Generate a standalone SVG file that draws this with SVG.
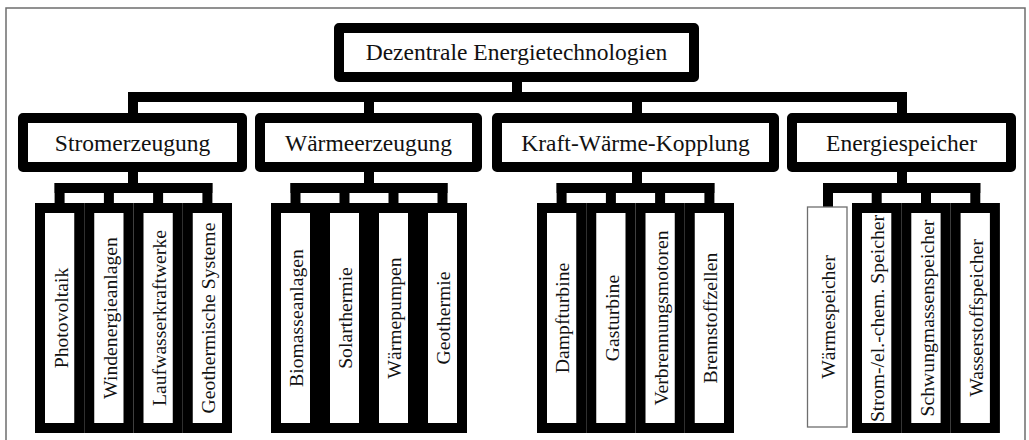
<svg xmlns="http://www.w3.org/2000/svg" width="1029" height="440" viewBox="0 0 1029 440">
<style>
.box{fill:#fff;stroke:#000;stroke-width:10;stroke-linejoin:round}
.leaf{fill:#fff;stroke:#000;stroke-width:10;stroke-linejoin:miter}
.thin{fill:#fff;stroke:#6e6e6e;stroke-width:1.3}
.con{stroke:#000;stroke-width:10;fill:none;stroke-linecap:butt}
.h{font-family:"Liberation Serif","Times New Roman",serif;font-size:23.5px;fill:#111;text-anchor:middle}
.v{font-family:"Liberation Serif","Times New Roman",serif;font-size:19.7px;fill:#111;text-anchor:middle}
</style>
<rect x="0" y="0" width="1029" height="440" fill="#fff"/>
<path d="M6,440 V8 H1025 V440" fill="none" stroke="#6e6e6e" stroke-width="1.5"/>

<g id="connectors" class="con">
  <line x1="517" y1="82" x2="517" y2="92"/>
  <line x1="128" y1="97" x2="907" y2="97"/>
  <line x1="133" y1="92" x2="133" y2="113"/>
  <line x1="369" y1="92" x2="369" y2="113"/>
  <line x1="637" y1="92" x2="637" y2="113"/>
  <line x1="902" y1="92" x2="902" y2="113"/>
  <!-- Stromerzeugung -->
  <line x1="133" y1="172" x2="133" y2="193"/>
  <line x1="54.6" y1="188" x2="212.4" y2="188"/>
  <line x1="59.6" y1="183" x2="59.6" y2="203"/>
  <line x1="108.9" y1="183" x2="108.9" y2="203"/>
  <line x1="158.1" y1="183" x2="158.1" y2="203"/>
  <line x1="207.4" y1="183" x2="207.4" y2="203"/>
  <!-- Waermeerzeugung -->
  <line x1="369" y1="172" x2="369" y2="193"/>
  <line x1="290.5" y1="188" x2="447.5" y2="188"/>
  <line x1="295.5" y1="183" x2="295.5" y2="203"/>
  <line x1="344.5" y1="183" x2="344.5" y2="203"/>
  <line x1="393.5" y1="183" x2="393.5" y2="203"/>
  <line x1="442.5" y1="183" x2="442.5" y2="203"/>
  <!-- KWK -->
  <line x1="637" y1="172" x2="637" y2="193"/>
  <line x1="556.6" y1="188" x2="714.4" y2="188"/>
  <line x1="561.6" y1="183" x2="561.6" y2="203"/>
  <line x1="610.9" y1="183" x2="610.9" y2="203"/>
  <line x1="660.1" y1="183" x2="660.1" y2="203"/>
  <line x1="709.4" y1="183" x2="709.4" y2="203"/>
  <!-- Energiespeicher -->
  <line x1="902" y1="172" x2="902" y2="193"/>
  <line x1="823" y1="188" x2="980.3" y2="188"/>
  <line x1="828" y1="183" x2="828" y2="207"/>
  <line x1="876.7" y1="183" x2="876.7" y2="203"/>
  <line x1="926" y1="183" x2="926" y2="203"/>
  <line x1="975.3" y1="183" x2="975.3" y2="203"/>
</g>

<g id="root">
  <rect class="box" x="339" y="28" width="355" height="49"/>
  <text class="h" x="516.5" y="60">Dezentrale Energietechnologien</text>
</g>

<g id="stromerzeugung">
  <rect class="box" x="23" y="118" width="219" height="49"/>
  <text class="h" x="132.5" y="150.5">Stromerzeugung</text>
</g>
<g id="waermeerzeugung">
  <rect class="box" x="260" y="118" width="217" height="49"/>
  <text class="h" x="368.5" y="150.5">Wärmeerzeugung</text>
</g>
<g id="kwk">
  <rect class="box" x="497" y="118" width="277" height="49"/>
  <text class="h" x="635.5" y="150.5">Kraft-Wärme-Kopplung</text>
</g>
<g id="energiespeicher">
  <rect class="box" x="792" y="118" width="219" height="49"/>
  <text class="h" x="901.5" y="150.5">Energiespeicher</text>
</g>

<!-- Stromerzeugung leaves -->
<g id="photovoltaik">
  <rect class="leaf" x="40" y="208" width="39.25" height="220"/>
  <text class="v" transform="translate(67.5,318) rotate(-90)">Photovoltaik</text>
</g>
<g id="windenergieanlagen">
  <rect class="leaf" x="89.25" y="208" width="39.25" height="220"/>
  <text class="v" transform="translate(116.5,318) rotate(-90)">Windenergieanlagen</text>
</g>
<g id="laufwasserkraftwerke">
  <rect class="leaf" x="138.5" y="208" width="39.25" height="220"/>
  <text class="v" transform="translate(165.7,318) rotate(-90)">Laufwasserkraftwerke</text>
</g>
<g id="geothermische-systeme">
  <rect class="leaf" x="187.75" y="208" width="39.25" height="220"/>
  <text class="v" transform="translate(215,318) rotate(-90)">Geothermische Systeme</text>
</g>

<!-- Waermeerzeugung leaves -->
<g id="biomasseanlagen">
  <rect class="leaf" x="276" y="208" width="39" height="220"/>
  <text class="v" transform="translate(303,318) rotate(-90)">Biomasseanlagen</text>
</g>
<g id="solarthermie">
  <rect class="leaf" x="325" y="208" width="39" height="220"/>
  <text class="v" transform="translate(352,318) rotate(-90)">Solarthermie</text>
</g>
<g id="waermepumpen">
  <rect class="leaf" x="374" y="208" width="39" height="220"/>
  <text class="v" transform="translate(401,318) rotate(-90)">Wärmepumpen</text>
</g>
<g id="geothermie">
  <rect class="leaf" x="423" y="208" width="39" height="220"/>
  <text class="v" transform="translate(450,318) rotate(-90)">Geothermie</text>
</g>

<!-- KWK leaves -->
<g id="dampfturbine">
  <rect class="leaf" x="542" y="208" width="39.25" height="220"/>
  <text class="v" transform="translate(569.3,318) rotate(-90)">Dampfturbine</text>
</g>
<g id="gasturbine">
  <rect class="leaf" x="591.25" y="208" width="39.25" height="220"/>
  <text class="v" transform="translate(618.6,318) rotate(-90)">Gasturbine</text>
</g>
<g id="verbrennungsmotoren">
  <rect class="leaf" x="640.5" y="208" width="39.25" height="220"/>
  <text class="v" transform="translate(667.8,318) rotate(-90)">Verbrennungsmotoren</text>
</g>
<g id="brennstoffzellen">
  <rect class="leaf" x="689.75" y="208" width="39.25" height="220"/>
  <text class="v" transform="translate(717.1,318) rotate(-90)">Brennstoffzellen</text>
</g>

<!-- Energiespeicher leaves -->
<g id="waermespeicher">
  <rect class="thin" x="807.5" y="207" width="39.5" height="220"/>
  <text class="v" transform="translate(835,317) rotate(-90)">Wärmespeicher</text>
</g>
<g id="strom-elchem-speicher">
  <rect class="leaf" x="857" y="208" width="39.3" height="220"/>
  <text class="v" transform="translate(884.4,318.5) rotate(-90)">Strom-/el.-chem. Speicher</text>
</g>
<g id="schwungmassenspeicher">
  <rect class="leaf" x="906.3" y="208" width="39.3" height="220"/>
  <text class="v" transform="translate(933.7,318) rotate(-90)">Schwungmassenspeicher</text>
</g>
<g id="wasserstoffspeicher">
  <rect class="leaf" x="955.6" y="208" width="39.3" height="220"/>
  <text class="v" transform="translate(983,318) rotate(-90)">Wasserstoffspeicher</text>
</g>
</svg>
